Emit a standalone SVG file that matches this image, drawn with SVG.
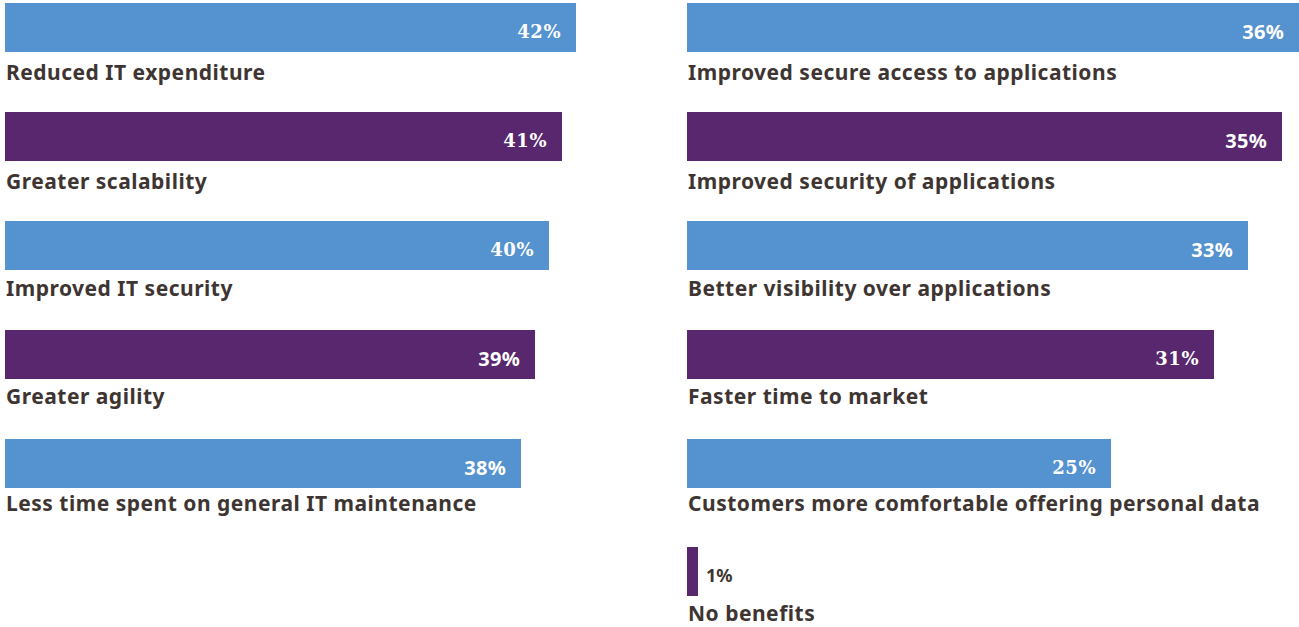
<svg xmlns="http://www.w3.org/2000/svg" width="1299" height="627" viewBox="0 0 1299 627">
<style>
.blue{fill:#5592d0}
.purple{fill:#58276e}
.lbl{font-family:"Noto Sans","Open Sans",sans-serif;font-weight:700;font-size:21px;letter-spacing:0.5px;fill:#3e3532}
.pct{font-family:"Noto Sans","Open Sans",sans-serif;font-weight:700;font-size:20px;letter-spacing:0.3px;fill:#ffffff;text-anchor:end}
.slab{font-family:"DejaVu Serif","Liberation Serif",serif;font-size:18px;letter-spacing:0.5px}
.pctd{font-family:"Noto Sans","Open Sans",sans-serif;font-weight:700;font-size:18px;fill:#3e3532}
</style>
<rect width="1299" height="627" fill="#ffffff"/>
<g id="bar-reduced-it">
<rect class="blue" x="5" y="3" width="571" height="49"/>
<text class="pct slab" x="561" y="38">42%</text>
<text class="lbl" x="6" y="80">Reduced IT expenditure</text>
</g>
<g id="bar-scalability">
<rect class="purple" x="5" y="112" width="557" height="49"/>
<text class="pct slab" x="547" y="147">41%</text>
<text class="lbl" x="6" y="189">Greater scalability</text>
</g>
<g id="bar-it-security">
<rect class="blue" x="5" y="221" width="544" height="49"/>
<text class="pct slab" x="534" y="256">40%</text>
<text class="lbl" x="6" y="296">Improved IT security</text>
</g>
<g id="bar-agility">
<rect class="purple" x="5" y="330" width="530" height="49"/>
<text class="pct" x="520" y="366">39%</text>
<text class="lbl" x="6" y="404">Greater agility</text>
</g>
<g id="bar-maintenance">
<rect class="blue" x="5" y="439" width="516" height="49"/>
<text class="pct" x="506" y="475">38%</text>
<text class="lbl" x="6" y="511">Less time spent on general IT maintenance</text>
</g>
<g id="bar-secure-access">
<rect class="blue" x="687" y="3" width="612" height="49"/>
<text class="pct" x="1284" y="39">36%</text>
<text class="lbl" x="688" y="80">Improved secure access to applications</text>
</g>
<g id="bar-security-apps">
<rect class="purple" x="687" y="112" width="595" height="49"/>
<text class="pct" x="1267" y="148">35%</text>
<text class="lbl" x="688" y="189">Improved security of applications</text>
</g>
<g id="bar-visibility">
<rect class="blue" x="687" y="221" width="561" height="49"/>
<text class="pct" x="1233" y="257">33%</text>
<text class="lbl" x="688" y="296">Better visibility over applications</text>
</g>
<g id="bar-time-to-market">
<rect class="purple" x="687" y="330" width="527" height="49"/>
<text class="pct slab" x="1199" y="365">31%</text>
<text class="lbl" x="688" y="404">Faster time to market</text>
</g>
<g id="bar-personal-data">
<rect class="blue" x="687" y="439" width="424" height="49"/>
<text class="pct slab" x="1096" y="474">25%</text>
<text class="lbl" x="688" y="511">Customers more comfortable offering personal data</text>
</g>
<g id="bar-no-benefits">
<rect class="purple" x="687" y="547" width="11" height="49"/>
<text class="pctd" x="706" y="582">1%</text>
<text class="lbl" x="688" y="621">No benefits</text>
</g>
<g id="connectors"/>
</svg>
